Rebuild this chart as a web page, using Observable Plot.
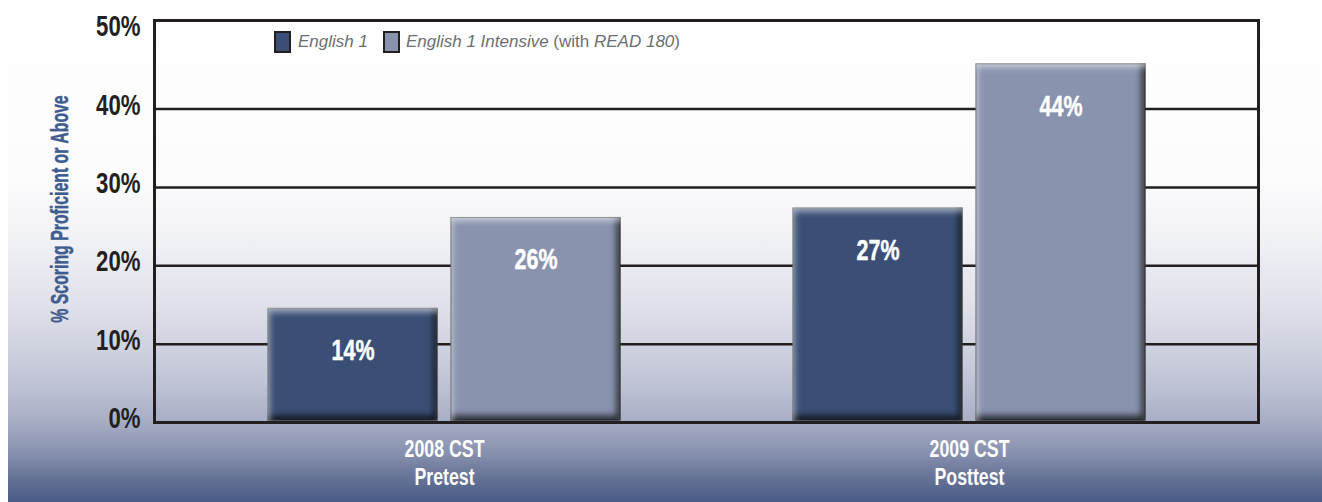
<!DOCTYPE html>
<html>
<head>
<meta charset="utf-8">
<script src="https://cdn.jsdelivr.net/npm/d3@7"></script>
<script src="https://cdn.jsdelivr.net/npm/@observablehq/plot@0.6"></script>
<style>
  html, body { margin: 0; padding: 0; background: #ffffff; }
  #wrap { position: relative; width: 1322px; height: 502px; overflow: hidden; }
  #bg { position: absolute; left: 8px; top: 0; right: 0; bottom: 0;
    background: linear-gradient(to bottom, #ffffff 0px, #fcfcfd 180px, #eeeff4 250px, #e1e2eb 300px, #d0d3e0 345px, #bbc0d3 390px, #a7adc5 422px, #8892b0 452px, #6a7698 475px, #485a86 502px); }
  .layer { position: absolute; left: 0; top: 0; }
  .layer svg { display: block; }
  #bars g[aria-label="bar"] rect { filter: url(#bevel); }
  #ytitle { position: absolute; left: 60px; top: 209px; transform: translate(-50%, -50%) rotate(-90deg) scaleX(0.66);
    white-space: nowrap; color: #3f5c8e; font-weight: bold; font-size: 24px;
    -webkit-text-stroke: 0.5px #3f5c8e;
    font-family: "Liberation Sans", Arial, sans-serif; }
  #legend { position: absolute; left: 274px; top: 31px; height: 22px; display: flex; align-items: center;
    font-family: "Liberation Sans", Arial, sans-serif; font-size: 17px; color: #6d6e71; white-space: nowrap; }
  #legend .sw { display: inline-block; width: 13px; height: 18px; border: 2px solid #231f20; }
  #legend i { font-style: italic; }
</style>
</head>
<body>
<svg width="0" height="0" style="position:absolute">
  <defs>
    <filter id="bevel" x="-20%" y="-20%" width="140%" height="140%" color-interpolation-filters="sRGB">
      <feComponentTransfer in="SourceAlpha" result="inv"><feFuncA type="table" tableValues="1 0"/></feComponentTransfer>
      <feGaussianBlur in="inv" stdDeviation="3" result="invBlur"/>
      <feOffset in="invBlur" dx="-4" dy="-5" result="shOff"/>
      <feFlood flood-color="#000000" flood-opacity="0.7"/>
      <feComposite in2="shOff" operator="in" result="sh"/>
      <feComposite in="sh" in2="SourceAlpha" operator="in" result="shadow"/>
      <feOffset in="invBlur" dx="2" dy="4" result="hiOff"/>
      <feFlood flood-color="#ffffff" flood-opacity="0.55"/>
      <feComposite in2="hiOff" operator="in" result="hi"/>
      <feComposite in="hi" in2="SourceAlpha" operator="in" result="highlight"/>
      <feMerge><feMergeNode in="SourceGraphic"/><feMergeNode in="shadow"/><feMergeNode in="highlight"/></feMerge>
    </filter>
  </defs>
</svg>
<div id="wrap">
  <div id="bg"></div>
  <div id="base" class="layer"></div>
  <div id="bars" class="layer"></div>
  <div id="ytitle">% Scoring Proficient or Above</div>
  <div id="legend">
    <span class="sw" style="background:#3b4f76"></span>
    <span style="margin-left:7px"><i>English 1</i></span>
    <span class="sw" style="background:#8993ae;margin-left:15px"></span>
    <span style="margin-left:6px"><i>English 1 Intensive</i> (with <i>READ 180</i>)</span>
  </div>
</div>
<script>
// ---- data ----
const groups = ["2008 CST\nPretest", "2009 CST\nPosttest"];
const series = ["English 1", "English 1 Intensive"];
const english1Values = [14.5, 27.3];     // bar heights
const intensiveValues = [26.1, 45.7];
const english1Labels = ["14%", "27%"];
const intensiveLabels = ["26%", "44%"];
const yTicks = [0, 10, 20, 30, 40, 50];
const gridTicks = [10, 20, 30, 40];
const yMax = 51.3;
const colors = ["#3b4f76", "#8993ae"];

const data = groups.flatMap((g, i) => [
  {group: g, series: series[0], value: english1Values[i], label: english1Labels[i]},
  {group: g, series: series[1], value: intensiveValues[i], label: intensiveLabels[i]}
]);

const font = '"Liberation Sans", Arial, sans-serif';
const common = {
  width: 1322, height: 502,
  marginLeft: 154, marginRight: 64, marginTop: 20, marginBottom: 80,
  style: {background: "transparent", overflow: "visible"}
};

// Base layer: gridlines, frame, y axis
const base = Plot.plot({
  ...common,
  y: {domain: [0, yMax], axis: null},
  marks: [
    Plot.ruleY(gridTicks, {stroke: "#231f20", strokeWidth: 2.5}),
    Plot.frame({stroke: "#231f20", strokeWidth: 3}),
    Plot.axisY(yTicks, {tickSize: 0, tickPadding: 14, dy: -4, tickFormat: d => d + "%",
      fontSize: 30, fontWeight: "bold", fill: "#231f20", stroke: "#231f20", strokeWidth: 0.6,
      fontFamily: font, label: null})
  ]
});

// Bars layer: grouped bars, value labels, group axis
const bars = Plot.plot({
  ...common,
  fx: {domain: groups, paddingInner: 0.2, paddingOuter: 0.15, label: null},
  x: {domain: series, paddingInner: 0.0761, paddingOuter: 0.181, axis: null},
  y: {domain: [0, yMax], axis: null},
  color: {domain: series, range: colors},
  marks: [
    Plot.barY(data, {fx: "group", x: "series", y: "value", fill: "series", stroke: "#3a3a3a", strokeWidth: 1, insetBottom: 2}),
    Plot.text(data, {fx: "group", x: "series", y: "value", text: "label", dy: 42, fill: "white",
      stroke: "white", strokeWidth: 0.5, fontSize: 29, fontWeight: "bold", fontFamily: font}),
    Plot.axisFx({anchor: "bottom", tickSize: 0, tickPadding: 14, fontSize: 24, fontWeight: "bold",
      fill: "white", stroke: "white", strokeWidth: 0.4, lineHeight: 1.18, fontFamily: font, label: null})
  ]
});

document.getElementById("base").appendChild(base);
document.getElementById("bars").appendChild(bars);

// condensed look: narrow every text glyph run horizontally around its anchor
for (const svg of [base, bars]) {
  d3.select(svg).selectAll("text").each(function() {
    const t = this.getAttribute("transform") || "";
    this.setAttribute("transform", (t + " scale(0.74,1)").trim());
  });
}
</script>
</body>
</html>
